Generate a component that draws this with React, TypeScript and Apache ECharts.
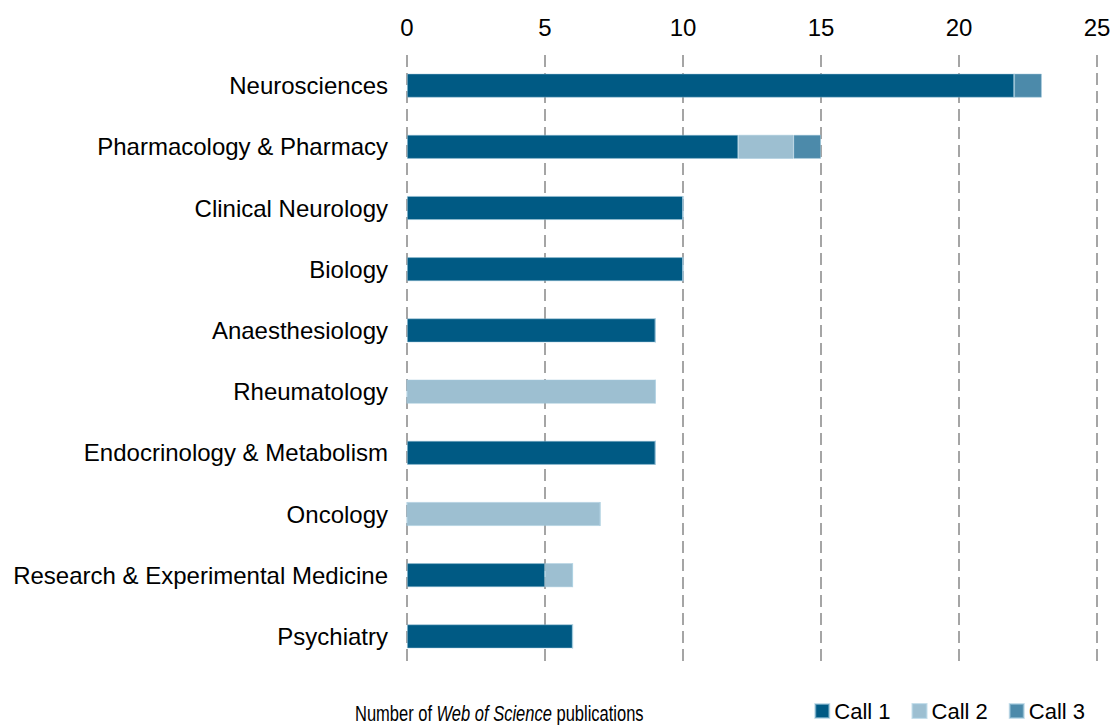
import React, { useEffect, useRef } from "react";
import * as echarts from "echarts";

const categories = [
  "Neurosciences",
  "Pharmacology & Pharmacy",
  "Clinical Neurology",
  "Biology",
  "Anaesthesiology",
  "Rheumatology",
  "Endocrinology & Metabolism",
  "Oncology",
  "Research & Experimental Medicine",
  "Psychiatry",
];
const call1 = [22, 12, 10, 10, 9, 0, 9, 0, 5, 6];
const call2 = [0, 2, 0, 0, 0, 9, 0, 7, 1, 0];
const call3 = [1, 1, 0, 0, 0, 0, 0, 0, 0, 0];
const seriesNames = ["Call 1", "Call 2", "Call 3"];
const colors = ["#005a84", "#9dbfd1", "#4c8aaa"];
const FONT = "'Liberation Sans', Arial, sans-serif";

export default function App() {
  const ref = useRef<HTMLDivElement>(null);
  useEffect(() => {
    if (!ref.current) return;
    const chart = echarts.init(ref.current, undefined, { renderer: "svg" });
    const data = [call1, call2, call3];
    chart.setOption({
      animation: false,
      textStyle: { fontFamily: FONT },
      grid: { left: 407, right: 17, top: 55, bottom: 58 },
      xAxis: {
        type: "value",
        position: "top",
        min: 0,
        max: 25,
        interval: 5,
        axisLine: { show: false },
        axisTick: { show: false },
        axisLabel: { fontSize: 24, color: "#000", margin: 16, fontFamily: FONT },
        splitLine: {
          show: true,
          lineStyle: { color: "#888", type: [12, 6], width: 1.5 },
        },
      },
      yAxis: {
        type: "category",
        data: categories,
        inverse: true,
        axisLine: { show: false },
        axisTick: { show: false },
        axisLabel: { fontSize: 24, color: "#000", margin: 19, fontFamily: FONT },
      },
      legend: {
        right: 29,
        top: 700,
        padding: 0,
        icon: "rect",
        itemWidth: 14,
        itemHeight: 14,
        itemGap: 21,
        textStyle: { fontSize: 22, color: "#000", fontFamily: FONT },
        data: seriesNames,
      },
      graphic: [
        {
          type: "text",
          x: 355,
          y: 713,
          scaleX: 0.75,
          style: {
            text: "Number of {i|Web of Science} publications",
            fontSize: 22,
            fontFamily: FONT,
            fill: "#000",
            verticalAlign: "middle",
            rich: {
              i: { fontStyle: "italic", fontSize: 22, fontFamily: FONT, fill: "#000" },
            },
          },
        },
      ],
      series: seriesNames.map((name, i) => ({
        name,
        type: "bar",
        stack: "total",
        barWidth: 24,
        data: data[i],
        itemStyle: { color: colors[i], borderColor: "rgba(160,200,220,0.6)", borderWidth: 0.8 },
      })),
    });
    return () => chart.dispose();
  }, []);
  return (
    <div
      ref={ref}
      style={{ position: "fixed", left: 0, top: 0, width: 1114, height: 725, background: "#fff" }}
    />
  );
}
